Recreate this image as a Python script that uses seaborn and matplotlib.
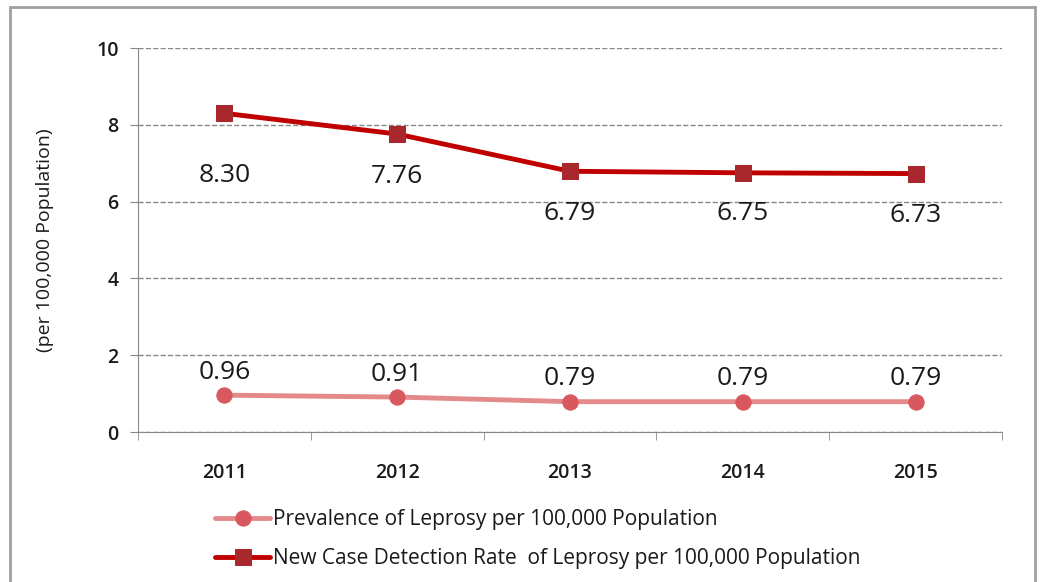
import pandas as pd
import matplotlib.pyplot as plt
import seaborn as sns
from matplotlib.patches import Rectangle

years = ['2011', '2012', '2013', '2014', '2015']
prevalence = [0.96, 0.91, 0.79, 0.79, 0.79]
detection = [8.30, 7.76, 6.79, 6.75, 6.73]
prev_name = 'Prevalence of Leprosy per 100,000 Population'
det_name = 'New Case Detection Rate  of Leprosy per 100,000 Population'

df = pd.DataFrame({'Year': years * 2,
                   'Value': prevalence + detection,
                   'Series': [prev_name] * 5 + [det_name] * 5})

sns.set_style('white')
plt.rcParams['font.family'] = ['Open Sans', 'DejaVu Sans']

fig = plt.figure(figsize=(10.43, 5.82), dpi=100)
ax = fig.add_axes([0.1323, 0.2577, 0.8284, 0.6598])

sns.lineplot(data=df[df['Series'] == prev_name], x='Year', y='Value', ax=ax,
             color='#E48A8A', linewidth=3.5, marker='o', markersize=11,
             markerfacecolor='#D9575F', markeredgecolor='#D9575F', label=prev_name)
sns.lineplot(data=df[df['Series'] == det_name], x='Year', y='Value', ax=ax,
             color='#C00000', linewidth=3.5, marker='s', markersize=11,
             markerfacecolor='#A8282E', markeredgecolor='#A8282E', label=det_name)

for i, v in enumerate(prevalence):
    ax.annotate(f'{v:.2f}', (i, v), xytext=(0, 23), textcoords='offset pixels',
                ha='center', va='center', fontsize=19, color='#1a1a1a')
det_off = [-62, -42, -42, -41, -42]
for i, v in enumerate(detection):
    ax.annotate(f'{v:.2f}', (i, v), xytext=(0, det_off[i]), textcoords='offset pixels',
                ha='center', va='center', fontsize=19, color='#1a1a1a')

ax.set_xlim(-0.5, 4.5)
ax.set_ylim(0, 10)
ax.set_yticks([0, 2, 4, 6, 8, 10])
ax.yaxis.grid(True, linestyle='--', color='#888888', linewidth=1)
ax.set_axisbelow(True)
ax.set_xlabel('')
ax.set_ylabel('(per 100,000 Population)', fontsize=14, labelpad=30, color='#1a1a1a')
ax.tick_params(axis='x', which='major', length=0, labelsize=14, pad=22, labelcolor='#1a1a1a')
ax.tick_params(axis='y', length=6, color='#888888', labelsize=14, pad=8, direction='out',
               left=True, labelcolor='#1a1a1a')
ax.set_xticks([-0.5, 0.5, 1.5, 2.5, 3.5, 4.5], minor=True)
ax.tick_params(axis='x', which='minor', length=6, color='#888888', direction='out', bottom=True)
for lab in ax.get_xticklabels() + ax.get_yticklabels():
    lab.set_fontweight('semibold')
for s in ['top', 'right']:
    ax.spines[s].set_visible(False)
for s in ['left', 'bottom']:
    ax.spines[s].set_color('#888888')

ax.legend(loc='upper left', bbox_to_anchor=(0.068, -0.152), frameon=False, fontsize=15,
          handlelength=2.6, labelspacing=0.85, handletextpad=0.15, labelcolor='#1a1a1a')

fig.patches.append(Rectangle((0.0096, -0.01), 0.9827, 0.9973, transform=fig.transFigure,
                             fill=False, edgecolor='#A0A0A0', linewidth=2))

fig.savefig('out.png', dpi=100)
